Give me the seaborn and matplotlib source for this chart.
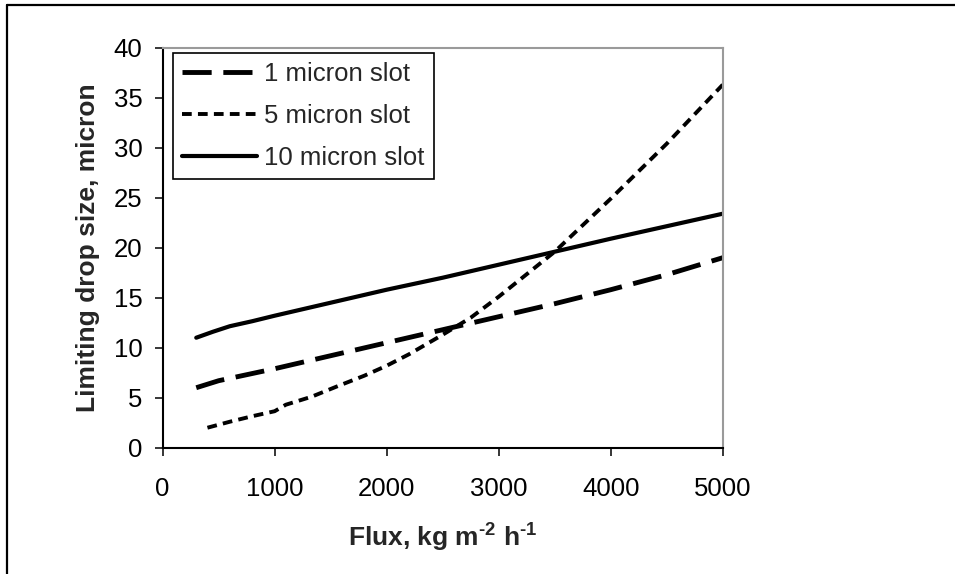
import pandas as pd
import numpy as np
import matplotlib
matplotlib.use('Agg')
import matplotlib.pyplot as plt
from matplotlib.lines import Line2D
import seaborn as sns

# values
flux_1um = [300, 500, 1000, 1500, 2000, 2500, 3000, 3500, 4000, 4500, 5000]
drop_1um = [6.0, 6.7, 7.9, 9.2, 10.5, 11.8, 13.1, 14.4, 15.8, 17.3, 19.0]

flux_5um = [400, 600, 800, 1000, 1100, 1330, 1550, 1800, 2000, 2200, 2500, 2750, 3000, 3500, 4000, 4500, 5000]
drop_5um = [2.0, 2.6, 3.15, 3.65, 4.3, 5.1, 6.1, 7.2, 8.2, 9.35, 11.3, 13.0, 15.1, 19.6, 24.9, 30.4, 36.3]

flux_10um = [300, 450, 600, 800, 1000, 1500, 2000, 2500, 3000, 3500, 4000, 4500, 5000]
drop_10um = [11.0, 11.6, 12.15, 12.65, 13.2, 14.5, 15.8, 17.0, 18.3, 19.6, 20.9, 22.15, 23.4]

series_names = ['1 micron slot', '5 micron slot', '10 micron slot']
x_ticks = [0, 1000, 2000, 3000, 4000, 5000]
y_ticks = [0, 5, 10, 15, 20, 25, 30, 35, 40]

df = pd.concat([
    pd.DataFrame({'flux': flux_1um, 'drop': drop_1um, 'series': series_names[0]}),
    pd.DataFrame({'flux': flux_5um, 'drop': drop_5um, 'series': series_names[1]}),
    pd.DataFrame({'flux': flux_10um, 'drop': drop_10um, 'series': series_names[2]}),
])

sns.set_style('ticks')
plt.rcParams['font.family'] = ['Liberation Sans', 'DejaVu Sans']
plt.rcParams['mathtext.fontset'] = 'custom'
plt.rcParams['mathtext.rm'] = 'Liberation Sans:bold'
plt.rcParams['mathtext.bf'] = 'Liberation Sans:bold'

line_styles = {
    '1 micron slot': dict(linestyle=(0, (6.0, 2.4)), linewidth=3.5),
    '5 micron slot': dict(linestyle=(0, (2.5, 1.6)), linewidth=2.8),
    '10 micron slot': dict(linestyle='-', linewidth=3.0),
}

fig = plt.figure(figsize=(9.55, 5.74), dpi=100)
ax = fig.add_axes([0.1703, 0.22, 0.5865, 0.6969])

for name in series_names:
    sns.lineplot(data=df[df['series'] == name], x='flux', y='drop', ax=ax,
                 color='black', label=name, **line_styles[name])

ax.set_xlim(0, 5000)
ax.set_ylim(0, 40)
ax.set_xticks(x_ticks)
ax.set_yticks(y_ticks)
ax.tick_params(axis='both', direction='out', length=6, width=1.1, colors='black', labelsize=18.5)
ax.tick_params(axis='x', pad=15)
ax.tick_params(axis='y', pad=8.5)

for side in ['left', 'bottom']:
    ax.spines[side].set_color('black')
    ax.spines[side].set_linewidth(1.5)
for side in ['top', 'right']:
    ax.spines[side].set_visible(True)
    ax.spines[side].set_color('#9a9a9a')
    ax.spines[side].set_linewidth(1.5)

ax.set_xlabel(r'Flux, kg m$^{\text{-2}}$ h$^{\text{-1}}$', fontsize=19, fontweight='bold')
ax.set_ylabel('Limiting drop size, micron', fontsize=19, fontweight='bold')
ax.xaxis.set_label_coords(0.5, -0.18)
ax.yaxis.set_label_coords(-0.112, 0.5)

leg = ax.legend(loc='upper left', bbox_to_anchor=(0.0186, 0.9875), borderaxespad=0,
                fontsize=18.5, frameon=True, fancybox=False, edgecolor='black',
                framealpha=1, handlelength=2.9, handletextpad=0.3, borderpad=0.35,
                labelspacing=0.7)
leg.get_frame().set_linewidth(1.2)

# outer chart frame (top and left edges visible)
fig.add_artist(Line2D([0.0076, 1.0], [0.9913, 0.9913], transform=fig.transFigure, color='black', lw=1.6))
fig.add_artist(Line2D([0.0076, 0.0076], [0.0, 0.9913], transform=fig.transFigure, color='black', lw=1.6))

fig.savefig('out.png', dpi=100)
